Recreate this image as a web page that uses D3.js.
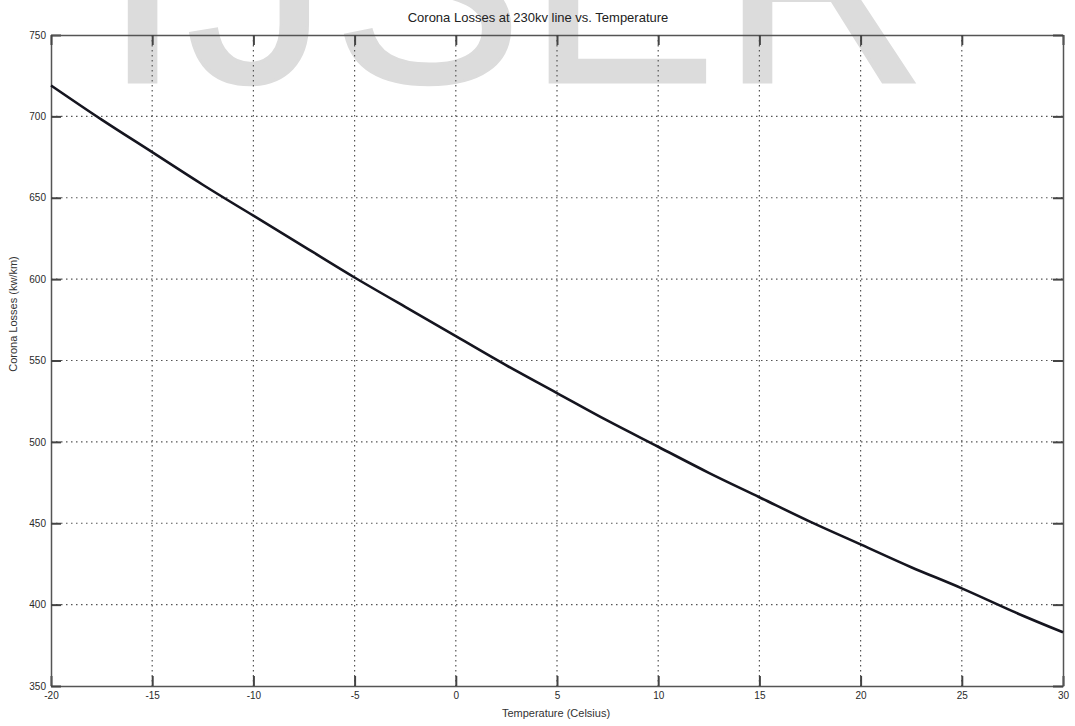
<!DOCTYPE html>
<html><head><meta charset="utf-8">
<script src="https://cdn.jsdelivr.net/npm/d3@7"></script>
<style>body{margin:0;background:#fff}svg{display:block}</style>
</head><body><svg id="c" width="1075" height="726"></svg>
<script>
const temperature = [-20,-17.5,-15,-12.5,-10,-7.5,-5,-2.5,0,2.5,5,7.5,10,12.5,15,17.5,20,22.5,25,27.5,30];
const losses = [719,698,678,658,639,620,601,583,565,547,530,513,497,481,466,451,437,423,410,396,383];
const xTicks = [-20,-15,-10,-5,0,5,10,15,20,25,30];
const yTicks = [350,400,450,500,550,600,650,700,750];
const title = "Corona Losses at 230kv line vs. Temperature";
const xLabel = "Temperature (Celsius)";
const yLabel = "Corona Losses (kw/km)";
const watermark = "IJSER";

const svg = d3.select("#c");
const L=51, R=1063, T=35, B=686;
const x = d3.scaleLinear().domain([-20,30]).range([L,R]);
const y = d3.scaleLinear().domain([350,750]).range([B,T]);
const font = "'Liberation Sans', Arial, Helvetica, sans-serif";

// watermark
svg.append("text").attr("x",103).attr("y",82)
  .attr("font-family",font).attr("font-size",285).attr("letter-spacing",4)
  .attr("fill","#dcdcdc").attr("stroke","#dcdcdc").attr("stroke-width",3).text(watermark);

// grid
const g = svg.append("g");
g.selectAll(".vg").data(xTicks.slice(1,-1)).join("line")
  .attr("x1",d=>x(d)).attr("x2",d=>x(d)).attr("y1",T).attr("y2",B)
  .attr("stroke","#555").attr("stroke-width",1.2).attr("stroke-dasharray","1.5,3.5");
g.selectAll(".hg").data(yTicks.slice(1,-1)).join("line")
  .attr("y1",d=>y(d)).attr("y2",d=>y(d)).attr("x1",L).attr("x2",R)
  .attr("stroke","#555").attr("stroke-width",1.2).attr("stroke-dasharray","1.5,3.5");

// axes (ticks inward on all sides)
const tk = 10;
const fmt = d => String(d);
const axB = d3.axisBottom(x).tickValues(xTicks).tickSizeInner(-tk).tickSizeOuter(0).tickPadding(6).tickFormat(fmt);
const axL = d3.axisLeft(y).tickValues(yTicks).tickSizeInner(-tk).tickSizeOuter(0).tickPadding(5).tickFormat(fmt);
const axT = d3.axisTop(x).tickValues(xTicks).tickSizeInner(-tk).tickSizeOuter(0).tickFormat("");
const axR = d3.axisRight(y).tickValues(yTicks).tickSizeInner(-tk).tickSizeOuter(0).tickFormat("");
function style(sel){
  sel.selectAll(".domain").attr("stroke","#555").attr("stroke-width",1.5);
  sel.selectAll(".tick line").attr("stroke","#444").attr("stroke-width",2);
  sel.selectAll("text").attr("font-family",font).attr("font-size",10).attr("fill","#2a2a2a");
}
svg.append("g").attr("transform",`translate(0,${B})`).call(axB).call(style);
svg.append("g").attr("transform",`translate(${L},0)`).call(axL).call(style);
svg.append("g").attr("transform",`translate(0,${T})`).call(axT).call(style);
svg.append("g").attr("transform",`translate(${R},0)`).call(axR).call(style);

// curve
svg.append("path").datum(temperature.map((t,i)=>[t,losses[i]]))
  .attr("d",d3.line().x(d=>x(d[0])).y(d=>y(d[1])).curve(d3.curveNatural))
  .attr("fill","none").attr("stroke","#15151f").attr("stroke-width",2.6);

// labels
svg.append("text").attr("x",538).attr("y",22).attr("text-anchor","middle")
  .attr("font-family",font).attr("font-size",13).attr("fill","#222").text(title);
svg.append("text").attr("x",556).attr("y",717).attr("text-anchor","middle")
  .attr("font-family",font).attr("font-size",11).attr("fill","#333").text(xLabel);
svg.append("text").attr("transform","translate(17,314) rotate(-90)").attr("text-anchor","middle")
  .attr("font-family",font).attr("font-size",11).attr("fill","#333").text(yLabel);
</script></body></html>
